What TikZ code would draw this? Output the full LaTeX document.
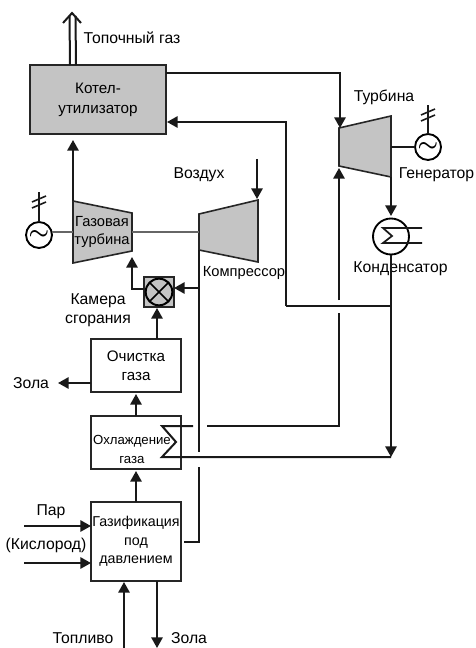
\documentclass[tikz,border=0pt]{standalone}
\usepackage{fontspec}
\setmainfont{Liberation Sans}
\usetikzlibrary{positioning, arrows.meta, calc}

\begin{document}
\begin{tikzpicture}[
            x=0.75pt, y=-0.75pt,
            pipe/.style={line width=1.5pt, draw=black!90},
            flow/.style={pipe, -{Triangle[length=8pt, width=8.5pt]}},
            shaft/.style={black!60, line width=0.8pt},
            unit/.style={draw=black!85, line width=1.1pt, rectangle, minimum width=67.5pt, inner sep=0pt, outer sep=0pt, align=center, font=\fontsize{11.4}{14}\selectfont},
            hot/.style={unit, fill=black!23},
            machine/.style={draw=black!85, line width=1.2pt, fill=black!23},
            varlabel/.style={inner sep=0pt, align=center, font=\fontsize{11.8}{14}\selectfont},
            gen/.style={draw=black, line width=1.4pt, circle, minimum size=19.5pt, inner sep=0pt, outer sep=0pt, font=\LARGE\boldmath}
        ]
        \useasboundingbox (0,0) rectangle (475,648);

        % Blocks
        \node[unit, minimum height=59.25pt, font=\fontsize{10.7}{14}\selectfont] (gasifier) at (136,541.5) {Газификация\\под\\давлением};
        \node[unit, minimum height=39.75pt, above=24.75pt of gasifier] (cooler) {};
        \node[unit, minimum height=39.75pt, above=18pt of cooler] (cleaner) {Очистка\\газа};
        \node[hot, minimum width=102pt, minimum height=51.75pt] (boiler) at (98,99.5) {Котел-\\[1pt]утилизатор};
        \node[hot, minimum size=22.5pt] (burner) at (159,292) {};
        \node[draw=black, line width=1.5pt, circle, minimum size=20pt, inner sep=0pt, outer sep=0pt] (burnercirc) at (burner) {};
        \draw[line width=1.1pt] (burnercirc.north west) -- (burnercirc.south east) (burnercirc.north east) -- (burnercirc.south west);

        % Turbines
        \coordinate (gtA) at (73,201);
        \coordinate (gtB) at (132,213);
        \coordinate (gtC) at (132,251);
        \coordinate (gtD) at (73,263);
        \coordinate (coA) at (199,214);
        \coordinate (coB) at (258,200);
        \coordinate (coC) at (258,262);
        \coordinate (coD) at (199,250);
        \coordinate (stA) at (339,128);
        \coordinate (stB) at (391,116);
        \coordinate (stC) at (391,177);
        \coordinate (stD) at (339,166);
        \draw[machine] (gtA) -- (gtB) -- (gtC) -- (gtD) -- cycle;
        \draw[machine] (coA) -- (coB) -- (coC) -- (coD) -- cycle;
        \draw[machine] (stA) -- (stB) -- (stC) -- (stD) -- cycle;

        % Generators
        \node[gen] (genleft) at (39,235) {$\sim$};
        \node[gen] (genright) at (428,147) {$\sim$};
        \coordinate (gridleft) at (39,192);
        \coordinate (gridright) at (428,105);
        \draw[pipe] (genleft.north) -- (gridleft);
        \draw[pipe] (genright.north) -- (gridright);
        \foreach \g/\dy in {gridleft/7, gridleft/13, gridright/7, gridright/13} {
            \draw[pipe, line width=1.2pt] ($(\g)+(-7,\dy+3)$) -- ($(\g)+(7,\dy-3)$);
        }
        \draw[shaft] (51.5,232) -- (73,232);
        \draw[shaft] (132,232) -- (199,232);
        \draw[pipe, line width=1.1pt] (391,147) -- (genright.west);

        % Condenser
        \node[gen, minimum size=27pt] (condenser) at (391,236.5) {};
        \coordinate (coilin) at (422,228);
        \coordinate (coilout) at (422,243);
        \draw[pipe, line width=1.3pt] (coilin) -- (383,228) -- (392,236) -- (383,243) -- (coilout);

        % Cooler coil
        \coordinate (sigA) at (162,426);
        \coordinate (sigB) at (176,442);
        \coordinate (sigC) at (162,457);
        \draw[pipe] (193,426) -- (sigA) -- (sigB) -- (sigC) -- (391,457);

        % Labels
        \node[varlabel, font=\fontsize{9.9}{14}\selectfont] (cooltext) at (132,449.5) {Охлаждение\\газа};
        \node[varlabel] (fluelabel) at (132,38) {Топочный газ};
        \node[varlabel] (airlabel) at (199,175) {Воздух};
        \node[varlabel, font=\fontsize{11}{14}\selectfont] (gtlabel) at (102,232) {Газовая\\турбина};
        \node[varlabel, font=\fontsize{11}{14}\selectfont] (colabel) at (244,273) {Компрессор};
        \node[varlabel] (burnerlabel) at (98,310.5) {Камера\\сгорания};
        \node[varlabel] (stlabel) at (384,97) {Турбина};
        \node[varlabel] (genlabel) at (436.5,175) {Генератор};
        \node[varlabel] (condlabel) at (400.5,269) {Конденсатор};
        \node[varlabel] (ashtop) at (31,383) {Зола};
        \node[varlabel] (steamlabel) at (51,512) {Пар};
        \node[varlabel] (oxylabel) at (46,545) {(Кислород)};
        \node[varlabel] (fuellabel) at (83,638) {Топливо};
        \node[varlabel] (ashbottom) at (189,638) {Зола};

        % Flue gas
        \coordinate (fluetip) at (72,13);
        \draw[pipe] ($(boiler.north)+(-28,0)$) -- ($(fluetip)+(-2.5,3)$);
        \draw[pipe] ($(boiler.north)+(-22,0)$) -- ($(fluetip)+(3.5,3)$);
        \draw[pipe] ($(fluetip)+(-9,10)$) -- (fluetip) -- ($(fluetip)+(9,10)$);

        % Connections
        \draw[flow] (gtA) -- ($(gtA |- boiler.south)+(0,6)$);
        \draw[flow] (boiler.east |- 0,73) -- (340,73) -- (340,128);
        \draw[flow] (286,306) -- (286,122) -- (167,122);
        \draw[pipe] (286,306) -- (391,306);
        \draw[flow] (stC) -- (391,216);
        \draw[flow] (condenser.south) -- (391,457);
        \draw[flow] (339,300) -- (339,168);
        \draw[pipe] (207,426) -- (339,426) -- (339,313);
        \draw[flow] (257,159) -- (257,199);
        \draw[pipe] (coD) -- (199,452);
        \draw[pipe] (199,467) -- (199,542) -- (184,542);
        \draw[flow] (199,288) -- (burner.east |- 0,288);
        \draw[flow] (burner.west |- 0,289) -- (132,289) -- (132,257);
        \draw[flow] (157,339) -- (157,308);
        \draw[flow] (cleaner.west |- 0,383) -- (58,383);
        \draw[flow] (cooler.north) -- ($(cleaner.south)+(0,2)$);
        \draw[flow] (gasifier.north) -- ($(cooler.south)+(0,2)$);
        \draw[flow] (24,526) -- (gasifier.west |- 0,526);
        \draw[flow] (24,563) -- (gasifier.west |- 0,563);
        \draw[flow] (124,648) -- (124,582);
        \draw[flow] (157,581) -- (157,648);

    \end{tikzpicture}
\end{document}
